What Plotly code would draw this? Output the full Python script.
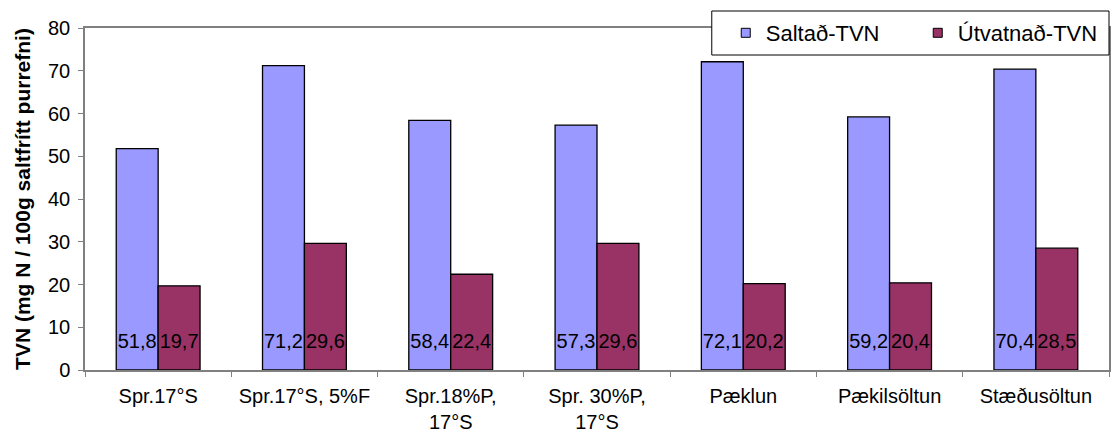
import plotly.graph_objects as go

categories = ["Spr.17°S", "Spr.17°S, 5%F", "Spr.18%P,<br>17°S", "Spr. 30%P,<br>17°S",
              "Pæklun", "Pækilsöltun", "Stæðusöltun"]
saltad = [51.8, 71.2, 58.4, 57.3, 72.1, 59.2, 70.4]
utvatnad = [19.7, 29.6, 22.4, 29.6, 20.2, 20.4, 28.5]
y_ticks = [0, 10, 20, 30, 40, 50, 60, 70, 80]

series = [("Saltað-TVN", saltad, "#9999FF"), ("Útvatnað-TVN", utvatnad, "#993366")]

FONT = "Liberation Sans, Arial, sans-serif"
BARGAP = 0.427
LABEL_Y = 6.3  # height of the in-bar value labels
xs = list(range(len(categories)))
half = (1 - BARGAP) / 4

fig = go.Figure()
for k, (name, vals, color) in enumerate(series):
    fig.add_trace(go.Bar(
        x=xs, y=vals, name=name, marker=dict(color=color, line=dict(color="black", width=1.3)),
        showlegend=False, hoverinfo="y",
    ))
for k, (name, vals, color) in enumerate(series):
    off = -half if k == 0 else half
    fig.add_trace(go.Scatter(
        x=[i + off for i in xs], y=[LABEL_Y] * len(xs), mode="text",
        text=[f"{v:.1f}".replace(".", ",") for v in vals],
        textfont=dict(family=FONT, size=20, color="black"),
        showlegend=False, hoverinfo="skip",
    ))
# legend entries with small square swatches
for name, vals, color in series:
    fig.add_trace(go.Scatter(
        x=[None], y=[None], mode="markers", name=name,
        marker=dict(symbol="square", size=9, color=color, line=dict(color="black", width=1)),
    ))

L, R, T, B = 85, 1, 28, 66
W, H = 1112, 436
pw = W - L - R

fig.update_layout(
    width=W, height=H, barmode="group", bargap=BARGAP, bargroupgap=0,
    margin=dict(l=L, r=R, t=T, b=B),
    plot_bgcolor="white", paper_bgcolor="white",
    font=dict(family=FONT, color="black"),
    showlegend=True,
    legend=dict(orientation="h", x=(727 - L) / pw, xanchor="left", y=1 + (T - 33) / (H - T - B),
                yanchor="middle", font=dict(size=22, family=FONT), bgcolor="rgba(0,0,0,0)",
                borderwidth=0, entrywidth=147, itemsizing="trace"),
    shapes=[dict(type="rect", xref="paper", yref="paper",
                 x0=(713 - L) / pw, x1=(1111 - L) / pw,
                 y0=1 + (T - 55) / (H - T - B), y1=1 + (T - 11) / (H - T - B),
                 line=dict(color="black", width=1), fillcolor="white", layer="above")],
)
fig.update_xaxes(
    range=[-0.5, len(categories) - 0.5], tickmode="array", tickvals=xs, ticktext=categories,
    ticks="", tickfont=dict(size=20, family=FONT), ticklabelstandoff=7,
    showline=True, linecolor="#808080", linewidth=1.5, mirror=True, showgrid=False, zeroline=False,
    minor=dict(tickmode="linear", tick0=-0.5, dtick=1, ticks="outside", ticklen=5,
               tickcolor="#808080", tickwidth=1, showgrid=False),
)
fig.update_yaxes(
    range=[0, 80], tickmode="array", tickvals=y_ticks, ticks="outside", ticklen=5,
    tickcolor="#808080", tickfont=dict(size=20, family=FONT), ticklabelstandoff=4,
    showline=True, linecolor="#808080", linewidth=1.5, mirror=True, showgrid=False, zeroline=False,
    title=dict(text="<b>TVN (mg N / 100g saltfrítt purrefni)</b>", font=dict(size=21, family=FONT),
               standoff=12),
)

fig.write_html("out.html")
